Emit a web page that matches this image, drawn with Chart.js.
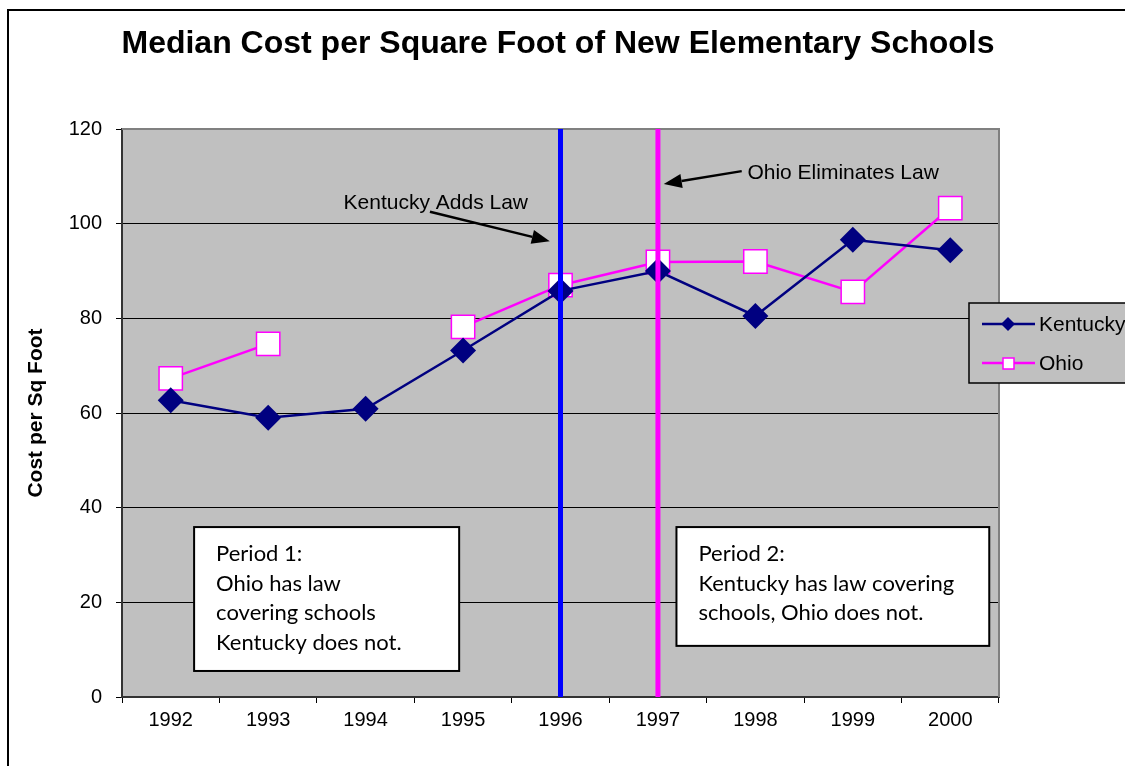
<!DOCTYPE html>
<html>
<head>
<meta charset="utf-8">
<script src="https://cdn.jsdelivr.net/npm/chart.js@4.4.1/dist/chart.umd.min.js"></script>
<style>
  html, body { margin: 0; padding: 0; background: #fff; }
  #wrap { width: 1125px; height: 766px; position: relative; }
</style>
</head>
<body>
<div id="wrap"><canvas id="chart" width="1125" height="766"></canvas></div>
<script>
const years = ['1992','1993','1994','1995','1996','1997','1998','1999','2000'];
const kentucky = [62.7, 59.0, 60.9, 73.2, 85.8, 90.0, 80.5, 96.6, 94.4];
const ohio = [67.3, 74.6, null, 78.2, 87.0, 91.9, 92.0, 85.6, 103.3];
const yTicks = [0, 20, 40, 60, 80, 100, 120];

const titleText = 'Median Cost per Square Foot of New Elementary Schools';
const yTitle = 'Cost per Sq Foot';

// lineas verticales: indice de categoria
const lawLines = [
  { at: 4, color: '#0000FF' },
  { at: 5, color: '#FF00FF' }
];
// flechas en coordenadas de datos (indice, valor)
const arrows = [
  { from: [2.66, 102.5], to: [3.89, 96.3], label: 'Kentucky Adds Law', labelAt: [2.72, 104.4] },
  { from: [5.86, 111.1], to: [5.06, 108.4], label: 'Ohio Eliminates Law', labelAt: [6.90, 110.7] }
];
const notes = [
  { x0: 0.24, x1: 2.96, y0: 35.9, y1: 5.5, lines: ['Period 1:', 'Ohio has law', 'covering schools', 'Kentucky does not.'] },
  { x0: 5.19, x1: 8.40, y0: 35.9, y1: 10.8, lines: ['Period 2:', 'Kentucky has law covering', 'schools, Ohio does not.'] }
];

const AX = '"Liberation Sans", Arial, sans-serif';
const NOTE_FONT = '22px Lato, "Open Sans", sans-serif';

function flecha(ctx, x1, y1, x2, y2){
  const ang = Math.atan2(y2 - y1, x2 - x1);
  const len = 18, half = 7;
  const bx = x2 - Math.cos(ang) * len, by = y2 - Math.sin(ang) * len;
  ctx.strokeStyle = '#000';
  ctx.lineWidth = 2.5;
  ctx.beginPath();
  ctx.moveTo(x1, y1);
  ctx.lineTo(bx, by);
  ctx.stroke();
  ctx.fillStyle = '#000';
  ctx.beginPath();
  ctx.moveTo(x2, y2);
  ctx.lineTo(bx + Math.sin(ang) * half, by - Math.cos(ang) * half);
  ctx.lineTo(bx - Math.sin(ang) * half, by + Math.cos(ang) * half);
  ctx.closePath();
  ctx.fill();
}

const decor = {
  id: 'decor',
  beforeDraw(chart){
    const { ctx, chartArea: a } = chart;
    ctx.save();
    ctx.fillStyle = '#fff';
    ctx.fillRect(0, 0, chart.width, chart.height);
    ctx.fillStyle = '#C0C0C0';
    ctx.fillRect(a.left, a.top, a.right - a.left, a.bottom - a.top);
    // marco exterior
    ctx.strokeStyle = '#000';
    ctx.lineWidth = 2;
    ctx.strokeRect(8, 10, chart.width + 20, chart.height + 20);
    // titulo
    ctx.fillStyle = '#000';
    ctx.font = 'bold 32px ' + AX;
    ctx.textAlign = 'center';
    ctx.textBaseline = 'middle';
    ctx.fillText(titleText, 558, 44);
    // titulo eje y
    ctx.font = 'bold 21px ' + AX;
    ctx.translate(36, (a.top + a.bottom) / 2);
    ctx.rotate(-Math.PI / 2);
    ctx.fillText(yTitle, 0, 0);
    ctx.restore();
  },
  afterDatasetsDraw(chart){
    const { ctx, chartArea: a, scales: { x, y } } = chart;
    ctx.save();
    // borde gris arriba y derecha
    ctx.strokeStyle = '#808080';
    ctx.lineWidth = 2;
    ctx.beginPath();
    ctx.moveTo(a.left, a.top);
    ctx.lineTo(a.right, a.top);
    ctx.lineTo(a.right, a.bottom);
    ctx.stroke();

    lawLines.forEach(l => {
      const px = x.getPixelForValue(l.at);
      ctx.strokeStyle = l.color;
      ctx.lineWidth = 5;
      ctx.beginPath();
      ctx.moveTo(px, a.top);
      ctx.lineTo(px, a.bottom);
      ctx.stroke();
    });

    arrows.forEach(r => {
      flecha(ctx, x.getPixelForValue(r.from[0]), y.getPixelForValue(r.from[1]),
        x.getPixelForValue(r.to[0]), y.getPixelForValue(r.to[1]));
      ctx.fillStyle = '#000';
      ctx.font = '21px ' + AX;
      ctx.textAlign = 'center';
      ctx.textBaseline = 'middle';
      ctx.fillText(r.label, x.getPixelForValue(r.labelAt[0]), y.getPixelForValue(r.labelAt[1]));
    });

    notes.forEach(n => {
      const l = x.getPixelForValue(n.x0), rt = x.getPixelForValue(n.x1);
      const t = y.getPixelForValue(n.y0), b = y.getPixelForValue(n.y1);
      ctx.fillStyle = '#fff';
      ctx.fillRect(l, t, rt - l, b - t);
      ctx.strokeStyle = '#000';
      ctx.lineWidth = 2;
      ctx.strokeRect(l, t, rt - l, b - t);
      ctx.fillStyle = '#000';
      ctx.font = NOTE_FONT;
      ctx.textAlign = 'left';
      ctx.textBaseline = 'middle';
      n.lines.forEach((s, i) => ctx.fillText(s, l + 22, t + 27 + i * 29.5));
    });

    // leyenda
    const lx = 969, ly = 303;
    ctx.fillStyle = '#C0C0C0';
    ctx.fillRect(lx, ly, 170, 80);
    ctx.strokeStyle = '#000';
    ctx.lineWidth = 1.5;
    ctx.strokeRect(lx, ly, 170, 80);
    const items = chart.data.datasets;
    items.forEach((ds, i) => {
      const cy = ly + 21 + i * 39;
      ctx.strokeStyle = ds.borderColor;
      ctx.lineWidth = 2.5;
      ctx.beginPath();
      ctx.moveTo(lx + 13, cy);
      ctx.lineTo(lx + 66, cy);
      ctx.stroke();
      if (i === 0) {
        ctx.fillStyle = ds.borderColor;
        ctx.beginPath();
        ctx.moveTo(lx + 39, cy - 7);
        ctx.lineTo(lx + 46, cy);
        ctx.lineTo(lx + 39, cy + 7);
        ctx.lineTo(lx + 32, cy);
        ctx.closePath();
        ctx.fill();
      } else {
        ctx.fillStyle = '#fff';
        ctx.fillRect(lx + 34, cy - 5, 11, 11);
        ctx.strokeStyle = ds.borderColor;
        ctx.lineWidth = 1.5;
        ctx.strokeRect(lx + 34, cy - 5, 11, 11);
      }
      ctx.fillStyle = '#000';
      ctx.font = '21px ' + AX;
      ctx.textAlign = 'left';
      ctx.textBaseline = 'middle';
      ctx.fillText(ds.label, lx + 70, cy + 1);
    });
    ctx.restore();
  }
};

new Chart(document.getElementById('chart'), {
  type: 'line',
  data: {
    labels: years,
    datasets: [
      {
        label: 'Kentucky',
        data: kentucky,
        borderColor: '#000080',
        backgroundColor: '#000080',
        borderWidth: 2.5,
        pointStyle: 'rectRot',
        pointRadius: 13,
        pointBorderWidth: 0,
        tension: 0
      },
      {
        label: 'Ohio',
        data: ohio,
        borderColor: '#FF00FF',
        backgroundColor: '#FFFFFF',
        pointBackgroundColor: '#FFFFFF',
        pointBorderColor: '#FF00FF',
        borderWidth: 2.5,
        pointStyle: 'rect',
        pointRadius: 16.5,
        pointBorderWidth: 1.5,
        spanGaps: false,
        tension: 0
      }
    ]
  },
  options: {
    responsive: false,
    animation: false,
    events: [],
    layout: { padding: { top: 129, right: 126, bottom: 0, left: 0 } },
    plugins: { legend: { display: false }, title: { display: false }, tooltip: { enabled: false } },
    scales: {
      x: {
        type: 'category',
        offset: true,
        grid: { offset: true, drawOnChartArea: false, tickLength: 6, color: '#000', lineWidth: 1 },
        border: { color: '#333', width: 2 },
        ticks: { color: '#000', font: { family: AX, size: 20 }, padding: 5, maxRotation: 0 },
        afterFit(s){ s.height = 69; }
      },
      y: {
        min: 0,
        max: 120,
        afterBuildTicks(s){ s.ticks = yTicks.map(v => ({ value: v })); },
        grid: { color: '#000', lineWidth: 1, tickLength: 6 },
        border: { color: '#333', width: 2 },
        ticks: { color: '#000', font: { family: AX, size: 20 }, padding: 14 },
        afterFit(s){ s.width = 122; }
      }
    }
  },
  plugins: [decor]
});
</script>
</body>
</html>
